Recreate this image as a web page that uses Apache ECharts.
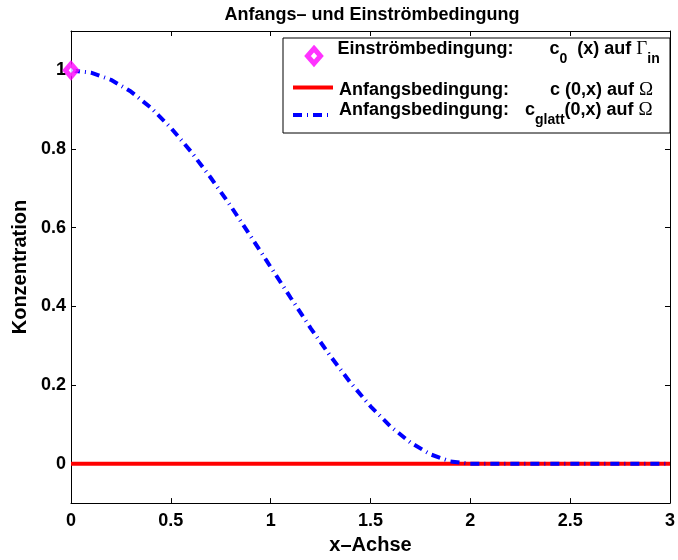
<!DOCTYPE html>
<html>
<head>
<meta charset="utf-8">
<script src="https://cdn.jsdelivr.net/npm/echarts@6/dist/echarts.min.js"></script>
<style>
html, body { margin: 0; padding: 0; background: #fff; }
#container { width: 678px; height: 560px; }
</style>
</head>
<body>
<div id="container"></div>
<script>
// values
var xGlatt = [0, 0.1, 0.2, 0.3, 0.4, 0.5, 0.6, 0.7, 0.8, 0.9, 1.0, 1.1, 1.2, 1.3, 1.4, 1.5, 1.6, 1.7, 1.8, 1.9, 2.0, 3.0];
var yGlatt = [1, 0.994, 0.976, 0.946, 0.905, 0.854, 0.794, 0.727, 0.655, 0.578, 0.5, 0.422, 0.345, 0.273, 0.206, 0.146, 0.095, 0.054, 0.024, 0.006, 0, 0];
var xAnfang = [0, 3];
var yAnfang = [0, 0];
var xEin = [0];
var yEin = [1];
var yTicks = [0, 0.2, 0.4, 0.6, 0.8, 1];

function pairs(xs, ys) {
    return xs.map(function (x, i) { return [x, ys[i]]; });
}

var font = '"Liberation Sans", Arial, Helvetica, sans-serif';
var serif = '"Liberation Serif", "Times New Roman", serif';

function txt(extra) {
    var s = { fontFamily: font, fontWeight: 'bold', fontSize: 18, color: '#000', verticalAlign: 'top', padding: [2, 0, 0, 0] };
    for (var k in extra) s[k] = extra[k];
    return s;
}

// rich text pieces for the legend rows (subscripts pushed down with padding)
var richStyles = {
    sp1: { width: 12, height: 36 },
    sp2: { width: 1, height: 24 },
    sp3: { width: 1, height: 32 },
    lab1: txt({ width: 212 }),
    lab2: txt({ width: 211, padding: [6, 0, 0, 0] }),
    lab3: txt({ width: 186 }),
    t: txt({}),
    t2: txt({ padding: [6, 0, 0, 0] }),
    sub1: txt({ fontSize: 14, padding: [14, 0, 0, 0] }),
    sub3: txt({ fontSize: 14, padding: [14, 0, 0, 0] }),
    g: { fontFamily: serif, fontSize: 19, color: '#000', verticalAlign: 'top', padding: [2, 0, 0, 0] },
    g2: { fontFamily: serif, fontSize: 19, color: '#000', verticalAlign: 'top', padding: [6, 0, 0, 0] }
};

var legendText = {
    ein: '{sp1| }{lab1|Einströmbedingung:}{t|c}{sub1|0}{t|  (x) auf }{g|Γ}{sub1|in}',
    anfang: '{sp2| }{lab2|Anfangsbedingung:}{t2|c (0,x) auf }{g2|Ω}',
    glatt: '{sp3| }{lab3|Anfangsbedingung:}{t|c}{sub3|glatt}{t|(0,x) auf }{g|Ω}'
};

function makeLegend(name, left, top, w, h, isLine) {
    var l = {
        data: [name],
        left: left,
        top: top,
        padding: 0,
        itemWidth: w,
        itemHeight: h,
        z: 6,
        selectedMode: false,
        formatter: function (n) { return legendText[n]; },
        textStyle: { rich: richStyles }
    };
    if (isLine) {
        l.itemStyle = { opacity: 0 };
        l.lineStyle = { width: 4 };
    } else {
        l.itemStyle = { color: '#fff', borderColor: '#ff00ff', borderWidth: 5 };
    }
    return l;
}

var chart = echarts.init(document.getElementById('container'));
var option = {
    animation: false,
    title: {
        text: 'Anfangs– und Einströmbedingung',
        left: 367,
        top: 1,
        textAlign: 'center',
        textStyle: { fontFamily: font, fontWeight: 'bold', fontSize: 18, color: '#000' }
    },
    grid: { left: 71, right: 3, top: 31, bottom: 51 },
    legend: [
        makeLegend('ein', 305, 40, 13, 15, false),
        makeLegend('anfang', 291, 81, 40, 12, true),
        makeLegend('glatt', 291, 101, 40, 12, true)
    ],
    graphic: [{
        type: 'rect',
        z: 5,
        shape: { x: 283, y: 38, width: 387, height: 95 },
        style: { fill: '#fff', stroke: '#000', lineWidth: 1 }
    }],
    xAxis: [{
        type: 'value',
        min: 0,
        max: 3,
        interval: 0.5,
        name: 'x–Achse',
        nameLocation: 'middle',
        nameGap: 29,
        nameTextStyle: { fontFamily: font, fontWeight: 'bold', fontSize: 20, color: '#000' },
        axisLine: { onZero: false, lineStyle: { color: '#000', width: 1 } },
        axisTick: { inside: true, length: 5, lineStyle: { color: '#000' } },
        axisLabel: { fontFamily: font, fontWeight: 'bold', fontSize: 18, color: '#000', margin: 9 },
        splitLine: { show: false }
    }, {
        type: 'value',
        position: 'top',
        min: 0,
        max: 3,
        interval: 0.5,
        axisLine: { onZero: false, lineStyle: { color: '#000', width: 1 } },
        axisTick: { inside: true, length: 5, lineStyle: { color: '#000' } },
        axisLabel: { show: false },
        splitLine: { show: false }
    }],
    yAxis: [{
        type: 'value',
        min: -0.1,
        max: 1.1,
        name: 'Konzentration',
        nameLocation: 'middle',
        nameGap: 38,
        nameRotate: 90,
        nameTextStyle: { fontFamily: font, fontWeight: 'bold', fontSize: 20, color: '#000' },
        axisLine: { show: true, onZero: false, lineStyle: { color: '#000', width: 1 } },
        axisTick: { show: true, inside: true, length: 5, customValues: yTicks, lineStyle: { color: '#000' } },
        axisLabel: { customValues: yTicks, fontFamily: font, fontWeight: 'bold', fontSize: 18, color: '#000', margin: 5 },
        splitLine: { show: false }
    }, {
        type: 'value',
        position: 'right',
        min: -0.1,
        max: 1.1,
        axisLine: { show: true, onZero: false, lineStyle: { color: '#000', width: 1 } },
        axisTick: { show: true, inside: true, length: 5, customValues: yTicks, lineStyle: { color: '#000' } },
        axisLabel: { show: false },
        splitLine: { show: false }
    }],
    series: [{
        name: 'ein',
        type: 'scatter',
        z: 4,
        symbol: 'diamond',
        symbolSize: [11, 13],
        itemStyle: { color: '#fff', borderColor: '#ff00ff', borderWidth: 5 },
        data: pairs(xEin, yEin)
    }, {
        name: 'anfang',
        type: 'line',
        symbol: 'none',
        z: 2,
        lineStyle: { color: '#ff0000', width: 4 },
        itemStyle: { color: '#ff0000' },
        data: pairs(xAnfang, yAnfang)
    }, {
        name: 'glatt',
        type: 'line',
        symbol: 'none',
        z: 3,
        lineStyle: { color: '#0000ff', width: 4, type: [9, 5, 1, 5] },
        itemStyle: { color: '#0000ff' },
        data: pairs(xGlatt, yGlatt)
    }]
};
chart.setOption(option);
</script>
</body>
</html>
